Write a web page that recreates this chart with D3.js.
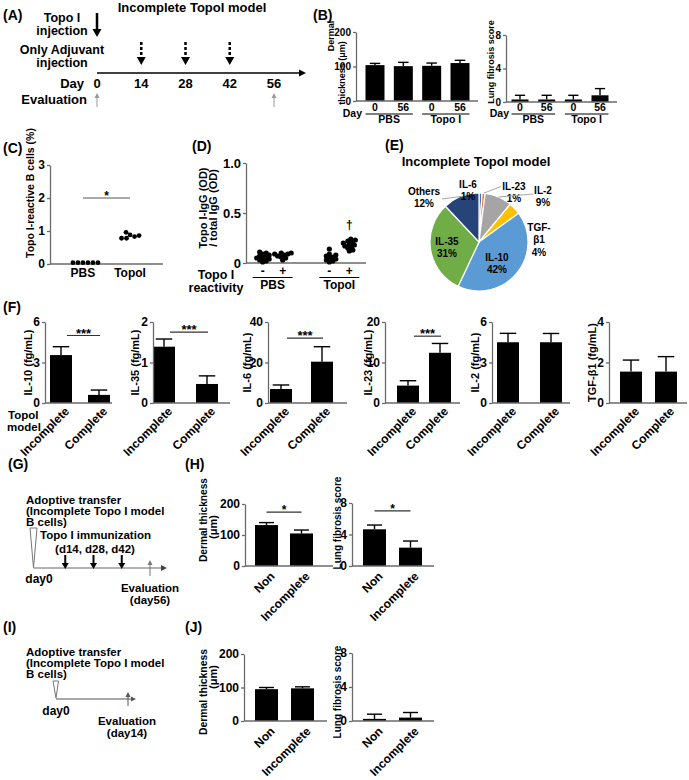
<!DOCTYPE html>
<html><head><meta charset="utf-8">
<script src="https://cdn.jsdelivr.net/npm/d3@7/dist/d3.min.js"></script>
<style>
html,body{margin:0;padding:0;background:#fff;}
svg text{font-family:"Liberation Sans",Arial,Helvetica,sans-serif;font-weight:bold;fill:#000;}
</style></head><body>
<svg id="fig" width="689" height="780" xmlns="http://www.w3.org/2000/svg"></svg>
<script>
// ================= DATA =================
const aDays = [0, 14, 28, 42, 56];
const aAdjuvantDays = [14, 28, 42];
const aEvalDays = [0, 56];

const bDays = ["0", "56", "0", "56"];
const bGroups = ["PBS", "Topo I"];
const bDermal = [104, 101, 102, 110];
const bDermalErr = [5, 11, 8, 8];
const bLung = [0.3, 0.3, 0.3, 0.8];
const bLungErr = [0.5, 0.5, 0.5, 0.8];

const cGroups = ["PBS", "TopoI"];
const cPBS = [0.04, 0.04, 0.04, 0.04, 0.04, 0.04];
const cTopoI = [0.88, 0.83, 0.96, 0.78, 0.78, 0.86];

const dGroups = ["PBS", "TopoI"];
const dReactivity = ["-", "+"];
const dPBSneg = [0.01, 0.02, 0.03, 0.04, 0.05, 0.05, 0.06, 0.07, 0.08, 0.09, 0.10, 0.11];
const dPBSpos = [0.03, 0.05, 0.06, 0.07, 0.08, 0.09, 0.09, 0.10, 0.10];
const dTopoNeg = [0.01, 0.02, 0.03, 0.04, 0.05, 0.06, 0.07, 0.08, 0.09, 0.14];
const dTopoPos = [0.12, 0.13, 0.15, 0.16, 0.17, 0.18, 0.19, 0.20, 0.21, 0.22, 0.23, 0.24];

const pieLabels = ["IL-6", "IL-23", "IL-2", "TGF-β1", "IL-10", "IL-35", "Others"];
const pieValues = [1, 1, 9, 4, 42, 31, 12];
const pieColors = ["#4472C4", "#ED7D31", "#A5A5A5", "#FFC000", "#5B9BD5", "#70AD47", "#264478"];

const fCytokines = ["IL-10", "IL-35", "IL-6", "IL-23", "IL-2", "TGF-β1"];
const fModels = ["Incomplete", "Complete"];
const fIncomplete = [3.55, 1.39, 6.9, 4.3, 4.5, 1.55];
const fIncompleteErr = [0.62, 0.19, 2.0, 1.2, 0.66, 0.57];
const fComplete = [0.6, 0.47, 20.4, 12.4, 4.5, 1.55];
const fCompleteErr = [0.36, 0.2, 7.4, 2.3, 0.65, 0.74];
const fMax = [6, 2, 40, 20, 6, 4];
const fSigAt = [5, 1.75, 32, 16.5, null, null];

const gImmunDays = [14, 28, 42];
const gEvalDay = 56;
const iEvalDay = 14;

const hjGroups = ["Non", "Incomplete"];
const hDermal = [132, 105];
const hDermalErr = [8, 11];
const hLung = [4.66, 2.33];
const hLungErr = [0.54, 0.84];
const hSigAt = [174, 7.0];
const jDermal = [95, 97.5];
const jDermalErr = [5, 4.5];
const jLung = [0.25, 0.4];
const jLungErr = [0.55, 0.6];

// ================= HELPERS =================
const svg = d3.select("#fig");
svg.append("rect").attr("width", 689).attr("height", 780).attr("fill", "#fff");
const AX = "#6a6a6a";

function label(x, y, s, fs, anchor = "start", rot = 0, len = null) {
  const t = svg.append("text").attr("x", x).attr("y", y).attr("font-size", fs)
    .attr("text-anchor", anchor).text(s);
  if (rot) t.attr("transform", `rotate(${rot},${x},${y})`);
  if (len) t.attr("textLength", len).attr("lengthAdjust", "spacingAndGlyphs");
  return t;
}
function yLabel(cx, cy, s, fs, len = null) {
  return label(cx, cy, s, fs, "middle", -90, len).attr("dominant-baseline", "central");
}
function arrow(x1, y1, x2, y2, o = {}) {
  const w = o.w || 1.5, hl = o.hl || 7, hw = o.hw || 4, c = o.color || "#000";
  const ang = Math.atan2(y2 - y1, x2 - x1);
  const bx = x2 - hl * Math.cos(ang), by = y2 - hl * Math.sin(ang);
  svg.append("line").attr("x1", x1).attr("y1", y1).attr("x2", bx).attr("y2", by)
    .attr("stroke", c).attr("stroke-width", w).attr("stroke-dasharray", o.dash || null);
  const px = -Math.sin(ang) * hw, py = Math.cos(ang) * hw;
  svg.append("path").attr("d", `M${x2},${y2}L${bx + px},${by + py}L${bx - px},${by - py}Z`)
    .attr("fill", o.head || c);
}
function yAxis(y, ax, ticks, fs, fmt) {
  const a = d3.axisLeft(y).tickValues(ticks).tickSize(3).tickSizeOuter(0).tickPadding(2)
    .tickFormat(fmt || d3.format("~g"));
  const g = svg.append("g").attr("transform", `translate(${ax},0)`).call(a);
  g.selectAll("path,line").attr("stroke", AX).attr("stroke-width", 1.3);
  g.selectAll("text").attr("font-size", fs);
  return g;
}
function hline(x1, x2, y, color = AX, w = 1.3) {
  svg.append("line").attr("x1", x1).attr("x2", x2).attr("y1", y).attr("y2", y)
    .attr("stroke", color).attr("stroke-width", w);
}
function barChart(o) {
  const n = o.vals.length, W = o.b1 - o.b0;
  const pad = (W - n * o.bw) / (W - o.bw);
  const y = d3.scaleLinear().domain([0, o.max]).range([o.yBot, o.yTop]);
  const x = d3.scaleBand().domain(d3.range(n)).range([o.b0, o.b1]).paddingInner(pad).paddingOuter(0);
  const bw = x.bandwidth(), cw = bw * (o.capF || 0.7);
  const cx = i => x(i) + bw / 2;
  o.vals.forEach((v, i) => {
    const top = y(v + o.errs[i]);
    svg.append("line").attr("x1", cx(i)).attr("x2", cx(i)).attr("y1", y(v)).attr("y2", top)
      .attr("stroke", "#000").attr("stroke-width", 1.4);
    svg.append("line").attr("x1", cx(i) - cw / 2).attr("x2", cx(i) + cw / 2).attr("y1", top).attr("y2", top)
      .attr("stroke", "#000").attr("stroke-width", 1.4);
  });
  svg.append("g").selectAll("rect").data(o.vals).join("rect")
    .attr("x", (d, i) => x(i)).attr("y", d => y(d)).attr("width", bw)
    .attr("height", d => o.yBot - y(d)).attr("fill", "#000");
  hline(o.ax, o.axEnd, o.yBot);
  yAxis(y, o.ax, o.ticks, o.fs || 12, o.fmt);
  if (o.xLabels) {
    o.xLabels.forEach((s, i) => {
      label(cx(i) + (o.lx ?? 9), o.yBot + (o.ly ?? 10), s, o.xfs || 12, "end", -45);
    });
  }
  if (o.sigAt != null) {
    const sy = y(o.sigAt), d = o.sigDx || [0, 0];
    const x1 = cx(0) + d[0], x2 = cx(1) + d[1];
    hline(x1, x2, sy, "#333", 1.2);
    label((x1 + x2) / 2, sy + 2, o.sigText, o.sigFs || 12, "middle");
  }
  return { x, y, bw, cx };
}
function dodge(vals, y, r, k0 = 0.95) {
  const placed = [];
  return vals.map(v => {
    const py = y(v);
    let off = 0;
    for (let k = 0; k < 400; k++) {
      const o = (k % 2 ? 1 : -1) * Math.ceil(k / 2) * 0.5;
      if (placed.every(p => Math.hypot(p.x - o, p.y - py) >= 2 * r * k0)) { off = o; break; }
    }
    placed.push({ x: off, y: py });
    return { x: off, y: py };
  });
}

// ================= (A) =================
const aX = d3.scaleLinear().domain([0, 56]).range([97, 274]);
label(3, 20, "(A)", 14);
label(192, 12, "Incomplete TopoI model", 13, "middle");
label(62, 22, "Topo I", 12.5, "middle");
label(62, 35, "injection", 12.5, "middle");
label(62, 54, "Only Adjuvant", 12.5, "middle");
label(62, 67, "injection", 12.5, "middle");
arrow(aX(0), 13, aX(0), 37, { w: 2.5, hl: 8, hw: 4.5 });
aAdjuvantDays.forEach(d => arrow(aX(d), 42, aX(d), 65, { w: 2.5, hl: 8, hw: 4.5, dash: "3,2" }));
arrow(aX(0), 73, 306, 73, { w: 1.5, hl: 7, hw: 3.5 });
label(84, 88, "Day", 13, "end");
aDays.forEach(d => label(aX(d), 88, String(d), 13, "middle"));
label(87, 104, "Evaluation", 13, "end");
aEvalDays.forEach(d => arrow(aX(d), 107, aX(d), 93, { w: 1, hl: 5, hw: 2.5, color: "#9a9a9a" }));

// ================= (B) =================
label(313, 20, "(B)", 14);
const bL = barChart({ vals: bDermal, errs: bDermalErr, max: 200, ticks: [0, 100, 200], ax: 356, axEnd: 478,
  b0: 365.5, b1: 469.5, bw: 19, yTop: 32, yBot: 101, fs: 10, capF: 0.55 });
yLabel(331, 36, "Dermal", 9);
yLabel(342, 73, "thickness (μm)", 9);
const bR = barChart({ vals: bLung, errs: bLungErr, max: 8, ticks: [0, 4, 8], ax: 506, axEnd: 617,
  b0: 511.5, b1: 608.5, bw: 17, yTop: 35, yBot: 102, fs: 10, capF: 0.6 });
yLabel(491, 62, "Lung fibrosis score", 9);
[[bL, 362], [bR, 509]].forEach(([c, dx]) => {
  label(dx, 117, "Day", 10.5, "end");
  bDays.forEach((s, i) => label(c.cx(i), 111, s, 10.5, "middle"));
  bGroups.forEach((gname, gi) => {
    const l = c.x(gi * 2), r = c.x(gi * 2 + 1) + c.bw;
    hline(l, r, 114, "#000", 1.2);
    label((l + r) / 2, 122.5, gname, 10.5, "middle");
  });
});

// ================= (C) =================
label(3, 153, "(C)", 14);
const cY = d3.scaleLinear().domain([0, 3]).range([264, 165]);
const cX = d3.scalePoint().domain(cGroups).range([50, 163]).padding(0.7);
hline(50, 163, 264);
yAxis(cY, 50, [0, 1, 2, 3], 12);
yLabel(30, 193, "Topo I-reactive B cells (%)", 10.5);
cGroups.forEach(gn => label(cX(gn), 277, gn, 12, "middle"));
[cPBS, cTopoI].forEach((vals, gi) => {
  dodge(vals, cY, 2.4).forEach(p => {
    svg.append("circle").attr("cx", cX(cGroups[gi]) + p.x).attr("cy", p.y).attr("r", 2.4).attr("fill", "#000");
  });
});
hline(cX("PBS"), cX("TopoI"), cY(2), "#555", 1.2);
label((cX("PBS") + cX("TopoI")) / 2, cY(2) + 2, "*", 12, "middle");

// ================= (D) =================
label(192, 151, "(D)", 14);
const dY = d3.scaleLinear().domain([0, 1]).range([263, 163]);
const dOuter = d3.scaleBand().domain(dGroups).range([246, 366]).paddingInner(0.4).paddingOuter(0.1);
const dInner = d3.scalePoint().domain(dReactivity).range([0, dOuter.bandwidth()]).padding(0.5);
hline(246, 366, 263);
yAxis(dY, 246, [0, 0.5, 1], 13, d => d === 0 ? "0" : d3.format(".1f")(d));
yLabel(203, 208, "Topo I-IgG (OD)", 11);
yLabel(213, 208, "/ total IgG (OD)", 11);
const dSeries = [[dPBSneg, "PBS", "-"], [dPBSpos, "PBS", "+"], [dTopoNeg, "TopoI", "-"], [dTopoPos, "TopoI", "+"]];
dSeries.forEach(([vals, g, r]) => {
  const cx = dOuter(g) + dInner(r);
  dodge(vals, dY, 2.6, 0.62).forEach(p => {
    svg.append("circle").attr("cx", cx + p.x).attr("cy", p.y).attr("r", 2.6).attr("fill", "#000");
  });
  label(cx, 275, r, 12, "middle");
});
dGroups.forEach(g => {
  hline(dOuter(g), dOuter(g) + dOuter.bandwidth(), 277.5, "#000", 1.1);
  label(dOuter(g) + dOuter.bandwidth() / 2, 289, g, 12, "middle");
});
label(dOuter("TopoI") + dInner("+"), dY(d3.max(dTopoPos)) - 10, "†", 12, "middle");
label(216, 279, "Topo I", 12.5, "middle");
label(216, 292, "reactivity", 12.5, "middle");

// ================= (E) =================
label(385, 150, "(E)", 14);
label(476, 166, "Incomplete TopoI model", 13, "middle");
const pc = [479, 242], pr = 49;
const arcs = d3.pie().sort(null).value(d => d)(pieValues);
const arcGen = d3.arc().innerRadius(0).outerRadius(pr);
svg.append("g").attr("transform", `translate(${pc[0]},${pc[1]})`)
  .selectAll("path").data(arcs).join("path")
  .attr("d", arcGen).attr("fill", (d, i) => pieColors[i]).attr("stroke", "#fff").attr("stroke-width", 1.2);
// label placement (layout): text anchor points, leader-line end points
const pieLabelAt = [[468, 188], [514, 190], [543, 194], [539, 231], [497, 261], [447, 245], [424, 195]];
const pieLeaderEnd = [null, [501, 186.5], [533, 194], null, null, null, [442, 199]];
arcs.forEach((a, i) => {
  const lines = (pieLabels[i].length > 5 && pieLabels[i].includes("-"))
    ? [pieLabels[i].split("-")[0] + "-", pieLabels[i].split("-")[1]] : [pieLabels[i]];
  lines.push(pieValues[i] + "%");
  lines.forEach((s, k) => label(pieLabelAt[i][0], pieLabelAt[i][1] + k * 12.3, s, 10, "middle"));
  if (pieLeaderEnd[i]) {
    const m = (a.startAngle + a.endAngle) / 2;
    svg.append("line").attr("x1", pc[0] + pr * Math.sin(m)).attr("y1", pc[1] - pr * Math.cos(m))
      .attr("x2", pieLeaderEnd[i][0]).attr("y2", pieLeaderEnd[i][1])
      .attr("stroke", "#a6a6a6").attr("stroke-width", 1);
  }
});

// ================= (F) =================
label(3, 312, "(F)", 14);
const fLayout = [
  { ax: 45, b0: 50, b1: 110, axEnd: 112, lx: 28 },
  { ax: 153, b0: 153, b1: 218, axEnd: 230, lx: 135 },
  { ax: 268, b0: 270, b1: 333, axEnd: 347, lx: 247 },
  { ax: 385, b0: 397, b1: 451, axEnd: 460, lx: 368 },
  { ax: 492, b0: 497, b1: 562, axEnd: 570, lx: 475 },
  { ax: 609, b0: 620, b1: 677, axEnd: 687, lx: 592 }];
fCytokines.forEach((name, i) => {
  const L = fLayout[i], m = fMax[i];
  barChart({ vals: [fIncomplete[i], fComplete[i]], errs: [fIncompleteErr[i], fCompleteErr[i]],
    max: m, ticks: [0, m / 2, m], ax: L.ax, axEnd: L.axEnd, b0: L.b0, b1: L.b1, bw: 22,
    yTop: 322, yBot: 403, fs: 12, capF: 0.75, xLabels: fModels, lx: 9, ly: 9,
    sigAt: fSigAt[i], sigText: "***", sigFs: 13, sigDx: [6, 1] });
  yLabel(L.lx, 362.5, `${name} (fg/mL)`, 11);
});
label(8, 418.5, "TopoI", 11.5);
label(7, 431, "model", 11.5);

// ================= (G) =================
label(8, 469, "(G)", 14);
label(26, 504, "Adoptive transfer", 11.5);
label(26, 515, "(Incomplete Topo I model", 11.5);
label(26, 526, "B cells)", 11.5);
const gX = d3.scaleLinear().domain([0, 56]).range([37, 150]);
svg.append("path").attr("d", `M${gX(0) - 7},528L${gX(0) + 0},528L${gX(0) - 3.5},568Z`)
  .attr("fill", "#fff").attr("stroke", "#777").attr("stroke-width", 1);
label(40, 539, "Topo I immunization", 11.5);
label(95, 552.5, "(d14, d28, d42)", 11.5, "middle");
arrow(gX(0) - 3.5, 568, 167, 568, { w: 1.6, hl: 6, hw: 3, color: "#9a9a9a", head: "#444" });
gImmunDays.forEach(d => arrow(gX(d), 555, gX(d), 569, { w: 2, hl: 6, hw: 3.5 }));
arrow(gX(gEvalDay), 576, gX(gEvalDay), 560, { w: 1, hl: 5, hw: 2.5, color: "#777" });
label(39, 583, "day0", 12, "middle");
label(gX(gEvalDay), 591.5, "Evaluation", 11.5, "middle");
label(gX(gEvalDay), 603.5, "(day56)", 11.5, "middle");

// ================= (H) =================
label(185, 469, "(H)", 14);
barChart({ vals: hDermal, errs: hDermalErr, max: 200, ticks: [0, 100, 200], ax: 245, axEnd: 333,
  b0: 255, b1: 313, bw: 23, yTop: 504, yBot: 566, fs: 12, capF: 0.65, xLabels: hjGroups, lx: 9, ly: 11,
  sigAt: hSigAt[0], sigText: "*", sigFs: 12 });
yLabel(203, 520, "Dermal thickness", 11, 84);
yLabel(213, 527, "(μm)", 11);
barChart({ vals: hLung, errs: hLungErr, max: 8, ticks: [0, 4, 8], ax: 352, axEnd: 434,
  b0: 363, b1: 422, bw: 23, yTop: 503, yBot: 566, fs: 12, capF: 0.65, xLabels: hjGroups, lx: 9, ly: 11,
  sigAt: hSigAt[1], sigText: "*", sigFs: 12 });
yLabel(337, 523, "Lung fibrosis score", 10);

// ================= (I) =================
label(3, 632, "(I)", 14);
label(26, 656, "Adoptive transfer", 11.5);
label(26, 667, "(Incomplete Topo I model", 11.5);
label(26, 678, "B cells)", 11.5);
const iX = d3.scaleLinear().domain([0, 14]).range([56, 128]);
svg.append("path").attr("d", `M${iX(0) - 3},681L${iX(0) + 2.5},681L${iX(0)},698Z`)
  .attr("fill", "#fff").attr("stroke", "#777").attr("stroke-width", 1);
arrow(iX(0), 699, 136, 699, { w: 1.2, hl: 5, hw: 2.5, color: "#555" });
arrow(iX(iEvalDay), 706, iX(iEvalDay), 692, { w: 1, hl: 5, hw: 2.5, color: "#555" });
label(iX(0), 715, "day0", 12, "middle");
label(127, 724.5, "Evaluation", 11.5, "middle");
label(127, 736.5, "(day14)", 11.5, "middle");

// ================= (J) =================
label(185, 632, "(J)", 14);
barChart({ vals: jDermal, errs: jDermalErr, max: 200, ticks: [0, 100, 200], ax: 244, axEnd: 327,
  b0: 255, b1: 314, bw: 23, yTop: 654, yBot: 721, fs: 12, capF: 0.65, xLabels: hjGroups, lx: 9, ly: 11 });
yLabel(203, 692, "Dermal thickness", 11, 86);
yLabel(213, 677, "(μm)", 11);
barChart({ vals: jLung, errs: jLungErr, max: 8, ticks: [0, 4, 8], ax: 352, axEnd: 434,
  b0: 363, b1: 422, bw: 23, yTop: 653, yBot: 721, fs: 12, capF: 0.65, xLabels: hjGroups, lx: 9, ly: 11 });
yLabel(337, 692, "Lung fibrosis score", 10);
</script>
</body></html>
